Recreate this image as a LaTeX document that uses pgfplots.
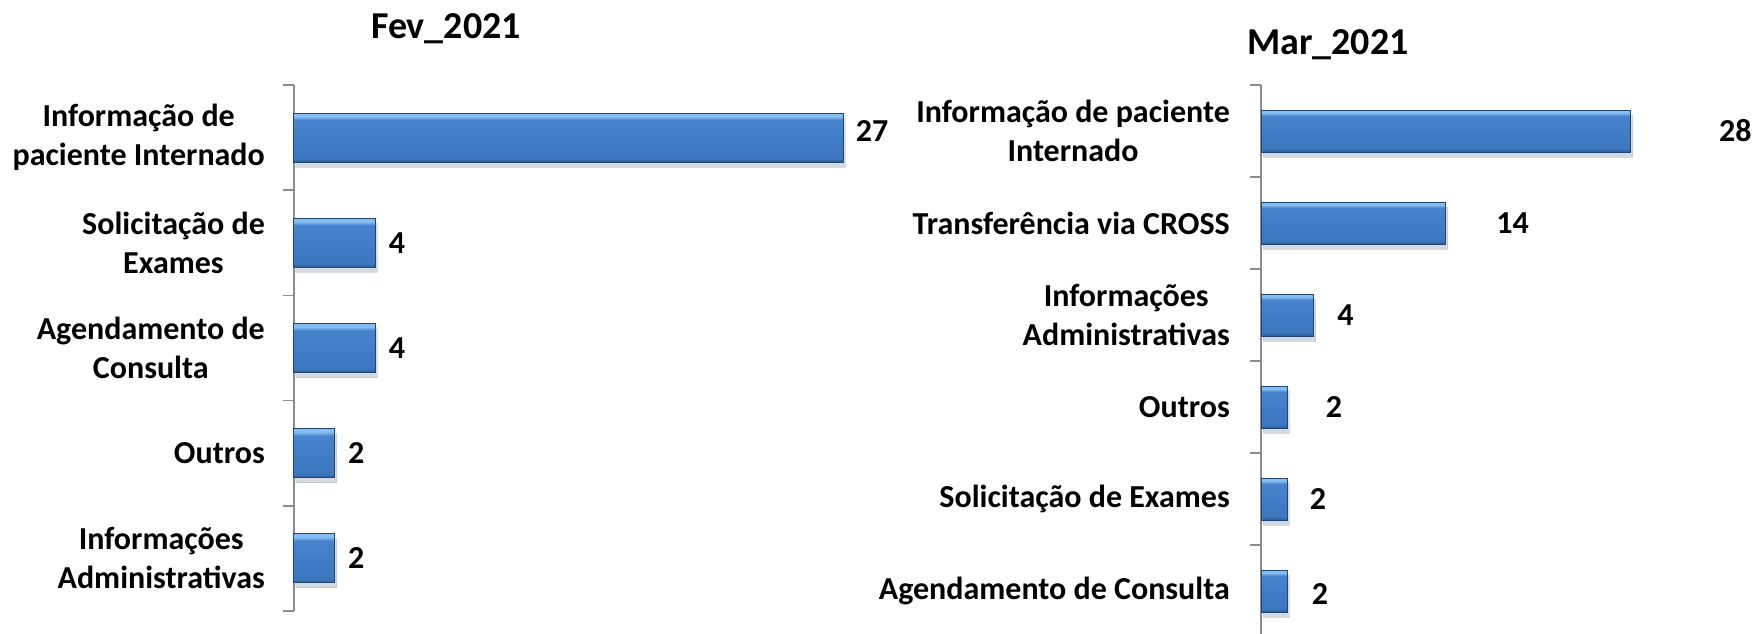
\documentclass[border=0pt]{standalone}
\usepackage{fontspec}
\setmainfont{Carlito}
\usepackage{pgfplots}
\pgfplotsset{compat=1.18}
\usepackage{pgfplotstable}
\usetikzlibrary{shadows}

\definecolor{axisgray}{HTML}{8C8C8C}
\definecolor{bartop}{HTML}{86BDF2}
\definecolor{barmid}{HTML}{3B76BE}
\definecolor{barmid2}{HTML}{4784CD}
\definecolor{barbot}{HTML}{2A5789}
\definecolor{bardark}{HTML}{22466F}

% bevel look: path box maps to 25bp..75bp
\pgfdeclareverticalshading{barshade}{100bp}{%
  color(0bp)=(barbot); color(25bp)=(barbot); color(28.5bp)=(barmid);
  color(68bp)=(barmid2); color(71.5bp)=(bartop); color(75bp)=(bartop); color(100bp)=(bartop)}

\newcommand\lbl{\bfseries\fontsize{32}{39}\selectfont}
\newcommand\ttl{\bfseries\fontsize{38}{44}\selectfont}

% Fev_2021
\pgfplotstableread{
pos val gap dy
0 27 12 7
1 4 13 0
2 4 13 0
3 2 13 0
4 2 13 0
}\fevdata

% Mar_2021
\pgfplotstableread{
pos val gap dy
0 28 88 0
1 14 50 0
2 4 23 0
3 2 38 0
4 2 22 0
5 2 24 -3
}\mardata

\pgfplotsset{
  painel/.style={
    scale only axis, xbar, y dir=reverse,
    xmin=0, xmax=30,
    axis x line=none, axis y line*=left,
    y axis line style={draw=axisgray, line width=1.5pt},
    major tick length=0pt, minor tick length=11pt, tick align=outside,
    minor tick style={draw=axisgray, line width=1.5pt},
    yticklabel style={align=center, font=\lbl, inner sep=0pt},
    clip=false,
    nodes near coords,
    visualization depends on={\thisrow{gap}\as\gap},
    visualization depends on={\thisrow{dy}\as\dy},
    every node near coord/.append style={anchor=west, xshift=\gap pt, yshift=\dy pt,
      font=\lbl, inner sep=0pt, text=black},
    /pgf/number format/assume math mode=true,
  },
  barra/.style={draw=bardark, line width=1pt, shading=barshade, bar shift=0pt,
    drop shadow={shadow xshift=2pt, shadow yshift=-5pt, fill=black, opacity=0.1}},
}

% one plot per bar so that each bar gets its own shading
\newcommand\barras[2]{%
  \pgfplotsinvokeforeach{0,...,#2}{%
    \addplot[barra] table[x=val, y=pos, restrict y to domain=##1:##1]{#1};}}

\begin{document}
\begin{tikzpicture}
\useasboundingbox (0,0) rectangle (1757pt,633pt);

\begin{axis}[painel,
  at={(294pt,22pt)}, anchor=south west,
  width=610.5pt, height=526pt, bar width=49pt,
  ymin=-0.5, ymax=4.5,
  ytick={0,...,4},
  minor ytick={-0.5,0.5,...,4.5},
  yticklabels={{Informação de\\paciente Internado},{Solicitação de\\Exames},{Agendamento de\\Consulta},{Outros},{Informações\\Administrativas}},
  yticklabel shift=29pt,
]
\barras{\fevdata}{4}
\end{axis}

\begin{axis}[painel,
  at={(1261pt,-4pt)}, anchor=south west,
  width=396pt, height=552pt, bar width=42pt,
  ymin=-0.5, ymax=5.5,
  ytick={0,...,5},
  minor ytick={-0.5,0.5,...,5.5},
  yticklabels={{Informação de paciente\\Internado},{Transferência via CROSS},{Informações\\Administrativas},{Outros},{Solicitação de Exames},{Agendamento de Consulta}},
  yticklabel shift=31pt,
]
\barras{\mardata}{5}
\end{axis}

\node[font=\ttl] at (446pt,604pt) {Fev\_2021};
\node[font=\ttl] at (1328pt,588pt) {Mar\_2021};
\end{tikzpicture}
\end{document}
